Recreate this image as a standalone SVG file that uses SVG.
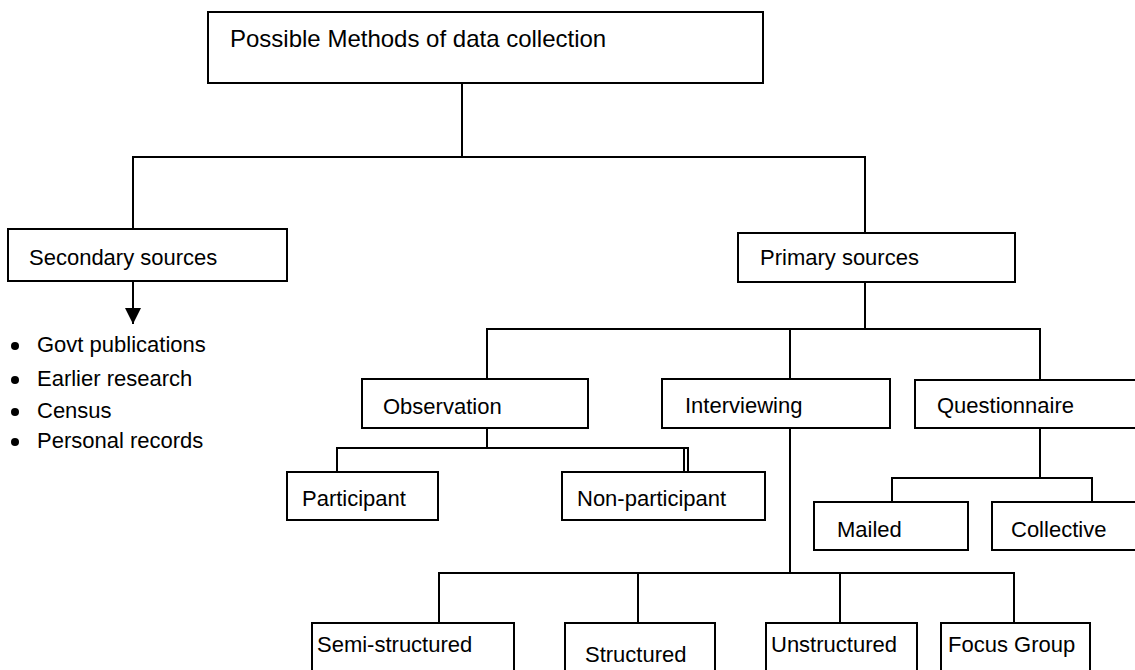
<svg xmlns="http://www.w3.org/2000/svg" width="1135" height="670" viewBox="0 0 1135 670">
  <style>
    .box { fill: #fff; stroke: #000; stroke-width: 2; }
    .lbl { font-family: "Liberation Sans", Arial, sans-serif; font-size: 22px; fill: #000; }
    .title { font-family: "Liberation Sans", Arial, sans-serif; font-size: 24px; fill: #000; }
    .wire { fill: none; stroke: #000; stroke-width: 2; }
  </style>
  <defs>
    <marker id="arrow" viewBox="0 0 10 10" refX="10" refY="5" markerWidth="16" markerHeight="17" markerUnits="userSpaceOnUse" orient="auto">
      <path d="M0,0 L10,5 L0,10 Z" fill="#000"/>
    </marker>
  </defs>
  <rect width="1135" height="670" fill="#fff"/>

  <!-- connectors -->
  <g id="connectors" class="wire">
    <!-- root to first level -->
    <path d="M462,83 V157"/>
    <path d="M133,229 V157 H865 V233"/>
    <!-- secondary sources to list -->
    <path d="M133,281 V324" marker-end="url(#arrow)"/>
    <!-- primary sources to methods -->
    <path d="M865,282 V329"/>
    <path d="M487,379 V329 H1040 V380"/>
    <path d="M790,329 V379"/>
    <!-- observation -->
    <path d="M487,428 V448"/>
    <path d="M337,472 V448 H688 V472"/>
    <path d="M684,448 V472"/>
    <!-- questionnaire -->
    <path d="M1040,428 V478"/>
    <path d="M892,502 V478 H1092 V502"/>
    <!-- interviewing -->
    <path d="M790,428 V573"/>
    <path d="M439,623 V573 H1014 V623"/>
    <path d="M638,573 V623"/>
    <path d="M840,573 V623"/>
  </g>

  <g id="root">
    <rect class="box" x="208" y="12" width="555" height="71"/>
    <text class="title" x="230" y="47">Possible Methods of data collection</text>
  </g>

  <g id="secondary">
    <rect class="box" x="8" y="229" width="279" height="52"/>
    <text class="lbl" x="29" y="265">Secondary sources</text>
  </g>

  <g id="secondary-list">
    <circle cx="15" cy="346" r="4"/>
    <circle cx="15" cy="380" r="4"/>
    <circle cx="15" cy="412" r="4"/>
    <circle cx="15" cy="442" r="4"/>
    <text class="lbl" x="37" y="352">Govt publications</text>
    <text class="lbl" x="37" y="386">Earlier research</text>
    <text class="lbl" x="37" y="418">Census</text>
    <text class="lbl" x="37" y="448">Personal records</text>
  </g>

  <g id="primary">
    <rect class="box" x="738" y="233" width="277" height="49"/>
    <text class="lbl" x="760" y="265">Primary sources</text>
  </g>

  <g id="observation">
    <rect class="box" x="362" y="379" width="226" height="49"/>
    <text class="lbl" x="383" y="414">Observation</text>
  </g>

  <g id="interviewing">
    <rect class="box" x="662" y="379" width="228" height="49"/>
    <text class="lbl" x="685" y="413">Interviewing</text>
  </g>

  <g id="questionnaire">
    <rect class="box" x="915" y="380" width="230" height="48"/>
    <text class="lbl" x="937" y="413">Questionnaire</text>
  </g>

  <g id="participant">
    <rect class="box" x="287" y="472" width="151" height="48"/>
    <text class="lbl" x="302" y="506">Participant</text>
  </g>

  <g id="non-participant">
    <rect class="box" x="562" y="472" width="203" height="48"/>
    <text class="lbl" x="577" y="506">Non-participant</text>
  </g>

  <g id="mailed">
    <rect class="box" x="814" y="502" width="154" height="48"/>
    <text class="lbl" x="837" y="537">Mailed</text>
  </g>

  <g id="collective">
    <rect class="box" x="992" y="502" width="153" height="48"/>
    <text class="lbl" x="1011" y="537">Collective</text>
  </g>

  <g id="semi-structured">
    <rect class="box" x="312" y="623" width="202" height="60"/>
    <text class="lbl" x="317" y="652">Semi-structured</text>
  </g>

  <g id="structured">
    <rect class="box" x="565" y="623" width="150" height="60"/>
    <text class="lbl" x="585" y="662">Structured</text>
  </g>

  <g id="unstructured">
    <rect class="box" x="766" y="623" width="151" height="60"/>
    <text class="lbl" x="771" y="652">Unstructured</text>
  </g>

  <g id="focus-group">
    <rect class="box" x="941" y="623" width="149" height="60"/>
    <text class="lbl" x="948" y="652">Focus Group</text>
  </g>
</svg>
